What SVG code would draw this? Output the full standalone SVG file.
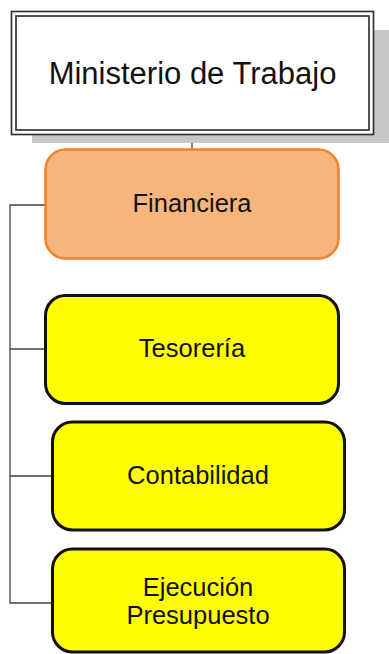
<svg xmlns="http://www.w3.org/2000/svg" width="389" height="654" viewBox="0 0 389 654">
<style>
.t{font-family:"Liberation Sans",Arial,sans-serif;fill:#111;text-anchor:middle;font-size:25.5px}
.y{fill:#ffff00;stroke:#111;stroke-width:3}
.c{fill:none;stroke:#404040;stroke-width:1.3}
</style>
<rect width="389" height="654" fill="#fff"/>
<g id="connectors">
<line class="c" x1="192" y1="135" x2="192" y2="150"/>
<polyline class="c" points="45,205 10,205 10,603 52,603"/>
<line class="c" x1="10" y1="349" x2="45" y2="349"/>
<line class="c" x1="10" y1="476" x2="52" y2="476"/>
</g>
<g id="ministerio">
<rect x="32" y="30" width="360" height="113" fill="#c8c8c8"/>
<rect x="11.5" y="11.5" width="362" height="123" fill="#fff" stroke="#333" stroke-width="1.7"/>
<rect x="16" y="16" width="353" height="114" fill="#fff" stroke="#333" stroke-width="1.7"/>
<text class="t" x="192.5" y="84" style="font-size:31px">Ministerio de Trabajo</text>
</g>
<g id="financiera">
<rect x="45.5" y="149.5" width="293" height="109" rx="20" fill="#f7b47b" stroke="#f08528" stroke-width="2.5"/>
<text class="t" x="192" y="212">Financiera</text>
</g>
<g id="tesoreria">
<rect class="y" x="45.5" y="295.5" width="293" height="108" rx="20"/>
<text class="t" x="192" y="357">Tesorería</text>
</g>
<g id="contabilidad">
<rect class="y" x="52.5" y="422" width="292" height="108" rx="20"/>
<text class="t" x="198" y="484">Contabilidad</text>
</g>
<g id="ejecucion">
<rect class="y" x="52.5" y="549" width="292" height="103" rx="20"/>
<text class="t" x="198" y="596">Ejecución</text>
<text class="t" x="198" y="624">Presupuesto</text>
</g>
</svg>
